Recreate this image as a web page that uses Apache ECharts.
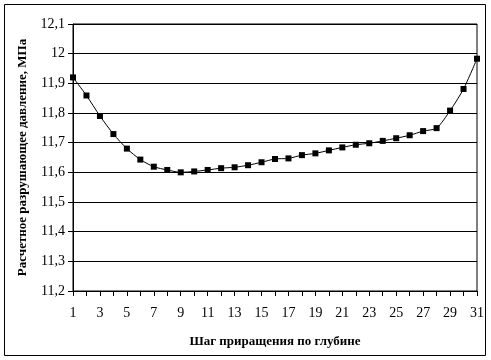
<!DOCTYPE html>
<html><head><meta charset="utf-8">
<script src="https://cdn.jsdelivr.net/npm/echarts@6/dist/echarts.min.js"></script>
<style>html,body{margin:0;padding:0;background:#fff}#c{width:491px;height:360px}</style>
</head><body><div id="c"></div>
<script>
const categories = ['1','2','3','4','5','6','7','8','9','10','11','12','13','14','15','16','17','18','19','20','21','22','23','24','25','26','27','28','29','30','31'];
const pressure = [11.920,11.859,11.790,11.729,11.680,11.643,11.619,11.608,11.600,11.603,11.608,11.614,11.617,11.624,11.634,11.645,11.647,11.658,11.664,11.674,11.684,11.693,11.698,11.706,11.715,11.725,11.739,11.749,11.808,11.881,11.983];
const yTitle = 'Расчетное разрушающее давление, МПа';
const xTitle = 'Шаг приращения по глубине';
const yMin = 11.2, yMax = 12.1, yStep = 0.1;

const font = "'Liberation Serif', 'Times New Roman', serif";
const chart = echarts.init(document.getElementById('c'), null, {renderer:'canvas'});
chart.setOption({
  animation:false,
  backgroundColor:'#fff',
  textStyle:{fontFamily:font},
  grid:{left:73, right:14, top:24, bottom:69, show:true, borderColor:'#000', borderWidth:1},
  graphic:[{type:'rect', shape:{x:4.5,y:4.5,width:481,height:351}, style:{fill:'none', stroke:'#000', lineWidth:1}}],
  xAxis:{
    type:'category', data:categories, boundaryGap:false,
    axisLine:{lineStyle:{color:'#000', width:1}},
    axisTick:{show:true, interval:0, length:5, lineStyle:{color:'#000'}},
    axisLabel:{interval:1, color:'#000', fontFamily:font, fontSize:14, margin:15},
    splitLine:{show:false},
    name:xTitle, nameLocation:'middle', nameGap:44,
    nameTextStyle:{fontFamily:font, fontSize:13, fontWeight:'bold', color:'#000'}
  },
  yAxis:{
    type:'value', min:yMin, max:yMax, interval:yStep,
    axisLine:{show:true, lineStyle:{color:'#000', width:1}},
    axisTick:{show:true, length:5, lineStyle:{color:'#000'}},
    axisLabel:{color:'#000', fontFamily:font, fontSize:14, margin:8,
      formatter:v=>(Math.round(v*10)/10).toString().replace('.',',')},
    splitLine:{show:true, lineStyle:{color:'#000', width:1}},
    name:yTitle, nameLocation:'middle', nameGap:40,
    nameTextStyle:{fontFamily:font, fontSize:13, fontWeight:'bold', color:'#000'}
  },
  series:[{
    type:'line', data:pressure, smooth:0.25,
    symbol:'rect', symbolSize:6,
    lineStyle:{color:'#000', width:1},
    itemStyle:{color:'#000'}
  }]
});
</script></body></html>
